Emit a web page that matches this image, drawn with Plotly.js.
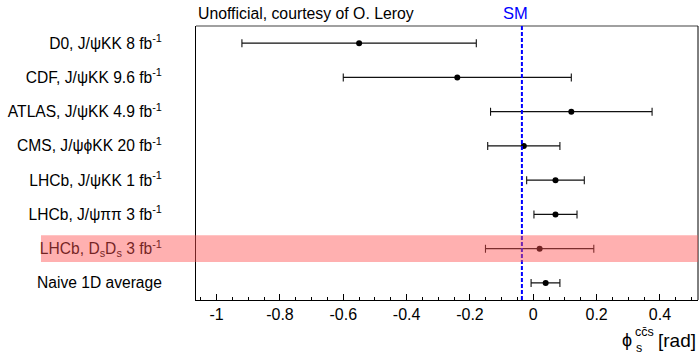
<!DOCTYPE html>
<html>
<head>
<meta charset="utf-8">
<script src="https://cdn.plot.ly/plotly-3.0.1.min.js"></script>
<style>html,body{margin:0;padding:0;background:#fff;}#chart{width:700px;height:354px;}</style>
</head>
<body>
<div id="chart"></div>
<script>
// ---- data ----
var categories = [
  'D0, J/ψKK 8 fb<sup>-1</sup>',
  'CDF, J/ψKK 9.6 fb<sup>-1</sup>',
  'ATLAS, J/ψKK 4.9 fb<sup>-1</sup>',
  'CMS, J/ψϕKK 20 fb<sup>-1</sup>',
  'LHCb, J/ψKK 1 fb<sup>-1</sup>',
  'LHCb, J/ψππ 3 fb<sup>-1</sup>',
  'LHCb, D<sub>s</sub>D<sub>s</sub> 3 fb<sup>-1</sup>',
  'Naive 1D average'
];
var phiValues = [-0.55, -0.24, 0.12, -0.03, 0.07, 0.07, 0.02, 0.039];
var errPlus   = [0.37, 0.36, 0.255, 0.114, 0.091, 0.068, 0.171, 0.045];
var errMinus  = [0.37, 0.36, 0.255, 0.114, 0.091, 0.068, 0.171, 0.046];
var smValue = -0.036;
var highlighted = 'LHCb, D<sub>s</sub>D<sub>s</sub> 3 fb<sup>-1</sup>';
var xTickVals = [-1, -0.8, -0.6, -0.4, -0.2, 0, 0.2, 0.4];
var xTickText = ['-1', '-0.8', '-0.6', '-0.4', '-0.2', '0', '0.2', '0.4'];

var FONT = 'Liberation Sans, Arial, Helvetica, sans-serif';
var hiIdx = categories.indexOf(highlighted);

var trace = {
  type: 'scatter', mode: 'markers',
  x: phiValues, y: categories,
  marker: {color: '#000', size: 6},
  error_x: {type: 'data', symmetric: false, array: errPlus, arrayminus: errMinus,
            color: '#111', thickness: 1.1, width: 4},
  showlegend: false, hoverinfo: 'x+y'
};

var layout = {
  width: 700, height: 354,
  margin: {l: 196, r: 2, t: 26, b: 54},
  paper_bgcolor: '#fff', plot_bgcolor: '#fff',
  font: {family: FONT, color: '#000', size: 15},
  xaxis: {
    range: [-1.065, 0.52], zeroline: false, showgrid: false,
    showline: true, linecolor: '#000', linewidth: 1,
    tickmode: 'array', tickvals: xTickVals, ticktext: xTickText,
    ticks: 'inside', ticklen: 6, tickcolor: '#000', tickwidth: 1,
    minor: {tickmode: 'linear', tick0: 0, dtick: 0.05, ticks: 'inside', ticklen: 3, tickcolor: '#000', tickwidth: 1, showgrid: false},
    tickfont: {family: FONT, size: 16, color: '#000'}
  },
  yaxis: {
    type: 'category', categoryorder: 'array', categoryarray: categories,
    range: [categories.length - 0.5, -0.5],
    showgrid: false, zeroline: false,
    showline: true, linecolor: '#000', linewidth: 1,
    ticks: '', ticklabelstandoff: 30,
    tickfont: {family: FONT, size: 15.6, color: '#000'}
  },
  shapes: [
    {type: 'line', xref: 'paper', yref: 'paper', x0: 0, x1: 1, y0: 1, y1: 1,
     line: {color: '#808080', width: 1.5}, layer: 'above'},
    {type: 'line', xref: 'paper', yref: 'paper', x0: 1, x1: 1, y0: 0, y1: 1,
     line: {color: '#000', width: 1}, layer: 'above'},
    {type: 'line', xref: 'x', yref: 'paper', x0: smValue, x1: smValue, y0: 0, y1: 1,
     line: {color: '#0000ff', width: 2, dash: '4px,2px'}, layer: 'above'},
    {type: 'rect', xref: 'paper', yref: 'y', x0: -0.3088, x1: 1,
     y0: hiIdx - 0.39, y1: hiIdx + 0.39,
     fillcolor: 'rgba(255,80,80,0.45)', line: {width: 0}, layer: 'above'}
  ],
  annotations: [
    {text: 'Unofficial, courtesy of O. Leroy', xref: 'paper', yref: 'paper',
     x: 0, y: 1.044, xanchor: 'left', yanchor: 'middle', showarrow: false,
     font: {family: FONT, size: 15.8, color: '#000'}},
    {text: 'SM', xref: 'x', yref: 'paper', x: smValue, xshift: -6, y: 1.047,
     xanchor: 'center', yanchor: 'middle', showarrow: false,
     font: {family: FONT, size: 16.5, color: '#0000ff'}},
    {text: 'ϕ', xref: 'paper', yref: 'paper', x: 0.8586, y: -0.146,
     xanchor: 'center', yanchor: 'middle', showarrow: false,
     font: {family: FONT, size: 18, color: '#000'}},
    {text: 'cc̄s', xref: 'paper', yref: 'paper', x: 0.8705, y: -0.1168,
     xanchor: 'left', yanchor: 'middle', showarrow: false,
     font: {family: FONT, size: 12.5, color: '#000'}},
    {text: 's', xref: 'paper', yref: 'paper', x: 0.8725, y: -0.177,
     xanchor: 'left', yanchor: 'middle', showarrow: false,
     font: {family: FONT, size: 12.5, color: '#000'}},
    {text: '[rad]', xref: 'paper', yref: 'paper', x: 1, y: -0.1496,
     xanchor: 'right', yanchor: 'middle', showarrow: false,
     font: {family: FONT, size: 19, color: '#000'}}
  ]
};

Plotly.newPlot('chart', [trace], layout, {displayModeBar: false, staticPlot: true});
</script>
</body>
</html>
